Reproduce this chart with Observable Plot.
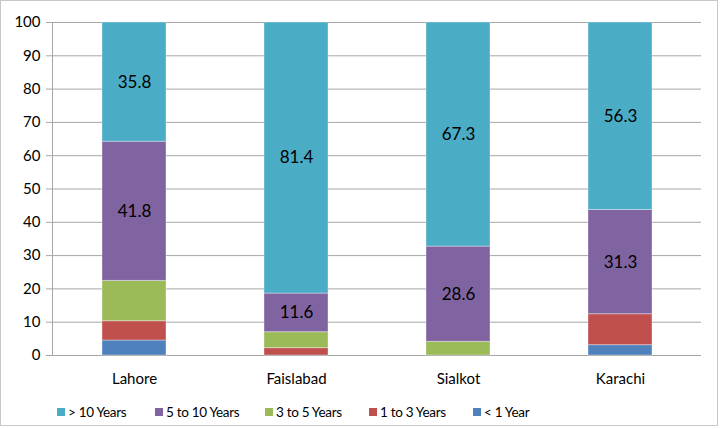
<!DOCTYPE html>
<html>
<head>
<meta charset="utf-8">
<script src="https://cdn.jsdelivr.net/npm/d3@7"></script>
<script src="https://cdn.jsdelivr.net/npm/@observablehq/plot@0.6"></script>
<style>
  html, body { margin: 0; padding: 0; background: #fff; }
  #wrap { position: relative; width: 716px; height: 424px; border: 1px solid #c8c8c8; overflow: hidden; font-family: Lato, "Open Sans", sans-serif; }
  #legend { position: absolute; top: 403px; left: 0; width: 716px; height: 20px; font-size: 13.5px; letter-spacing: -0.3px; color: #000; }
  .item { position: absolute; top: 0; display: flex; align-items: center; gap: 3px; white-space: nowrap; }
  .sw { width: 8px; height: 8px; display: inline-block; }
</style>
</head>
<body>
<div id="wrap"><div id="chart"></div><div id="legend"></div></div>
<script>
const cities = ["Lahore", "Faislabad", "Sialkot", "Karachi"];
const seriesNames = ["< 1 Year", "1 to 3 Years", "3 to 5 Years", "5 to 10 Years", "> 10 Years"];
const lessThan1 = [4.5, 0, 0, 3.1];
const oneTo3 = [5.8, 2.2, 0, 9.3];
const threeTo5 = [12.1, 4.8, 4.1, 0];
const fiveTo10 = [41.8, 11.6, 28.6, 31.3];
const moreThan10 = [35.8, 81.4, 67.3, 56.3];
const labelled = ["5 to 10 Years", "> 10 Years"];
const colors = ["#4F81BD", "#C0504D", "#9BBB59", "#8064A2", "#4BACC6"];
const legendOrder = ["> 10 Years", "5 to 10 Years", "3 to 5 Years", "1 to 3 Years", "< 1 Year"];
const yTicks = [0, 10, 20, 30, 40, 50, 60, 70, 80, 90, 100];

const seriesValues = [lessThan1, oneTo3, threeTo5, fiveTo10, moreThan10];
const data = [];
seriesNames.forEach((s, si) => {
  cities.forEach((c, ci) => data.push({city: c, series: s, value: seriesValues[si][ci]}));
});

const chart = Plot.plot({
  width: 716,
  height: 398,
  marginTop: 21,
  marginBottom: 44,
  marginLeft: 51,
  marginRight: 16,
  style: {fontFamily: "Lato, 'Open Sans', sans-serif", fontSize: "15px", color: "#000", background: "#fff"},
  x: {domain: cities, paddingInner: 0.605, paddingOuter: 0.3, label: null},
  y: {domain: [0, 100], ticks: yTicks, label: null},
  color: {domain: seriesNames, range: colors},
  marks: [
    Plot.gridY(yTicks, {stroke: "#a6a6a6", strokeOpacity: 1}),
    Plot.barY(data, {x: "city", y: "value", fill: "series", z: "series", stroke: "#ffffff", strokeOpacity: 0.35, strokeWidth: 1}),
    Plot.text(data, Plot.stackY({x: "city", y: "value", z: "series",
      text: d => labelled.includes(d.series) ? d.value.toFixed(1) : "",
      fontSize: 17, fill: "#000"})),
    Plot.frame({anchor: "left", stroke: "#a6a6a6"}),
    Plot.axisY({ticks: yTicks, tickSize: 6, tickPadding: 6, stroke: "#a6a6a6", label: null, fill: "#000", fontSize: 15}),
    Plot.axisX({tickSize: 0, tickPadding: 18, label: null, fill: "#000", fontSize: 15})
  ]
});
document.getElementById("chart").appendChild(chart);

const legend = document.getElementById("legend");
const legendX = [56, 154, 264, 368, 472];
legendOrder.forEach((s, i) => {
  const item = document.createElement("div");
  item.className = "item";
  item.style.left = legendX[i] + "px";
  const sw = document.createElement("span");
  sw.className = "sw";
  sw.style.background = colors[seriesNames.indexOf(s)];
  const t = document.createElement("span");
  t.textContent = s;
  item.appendChild(sw); item.appendChild(t);
  legend.appendChild(item);
});
</script>
</body>
</html>
